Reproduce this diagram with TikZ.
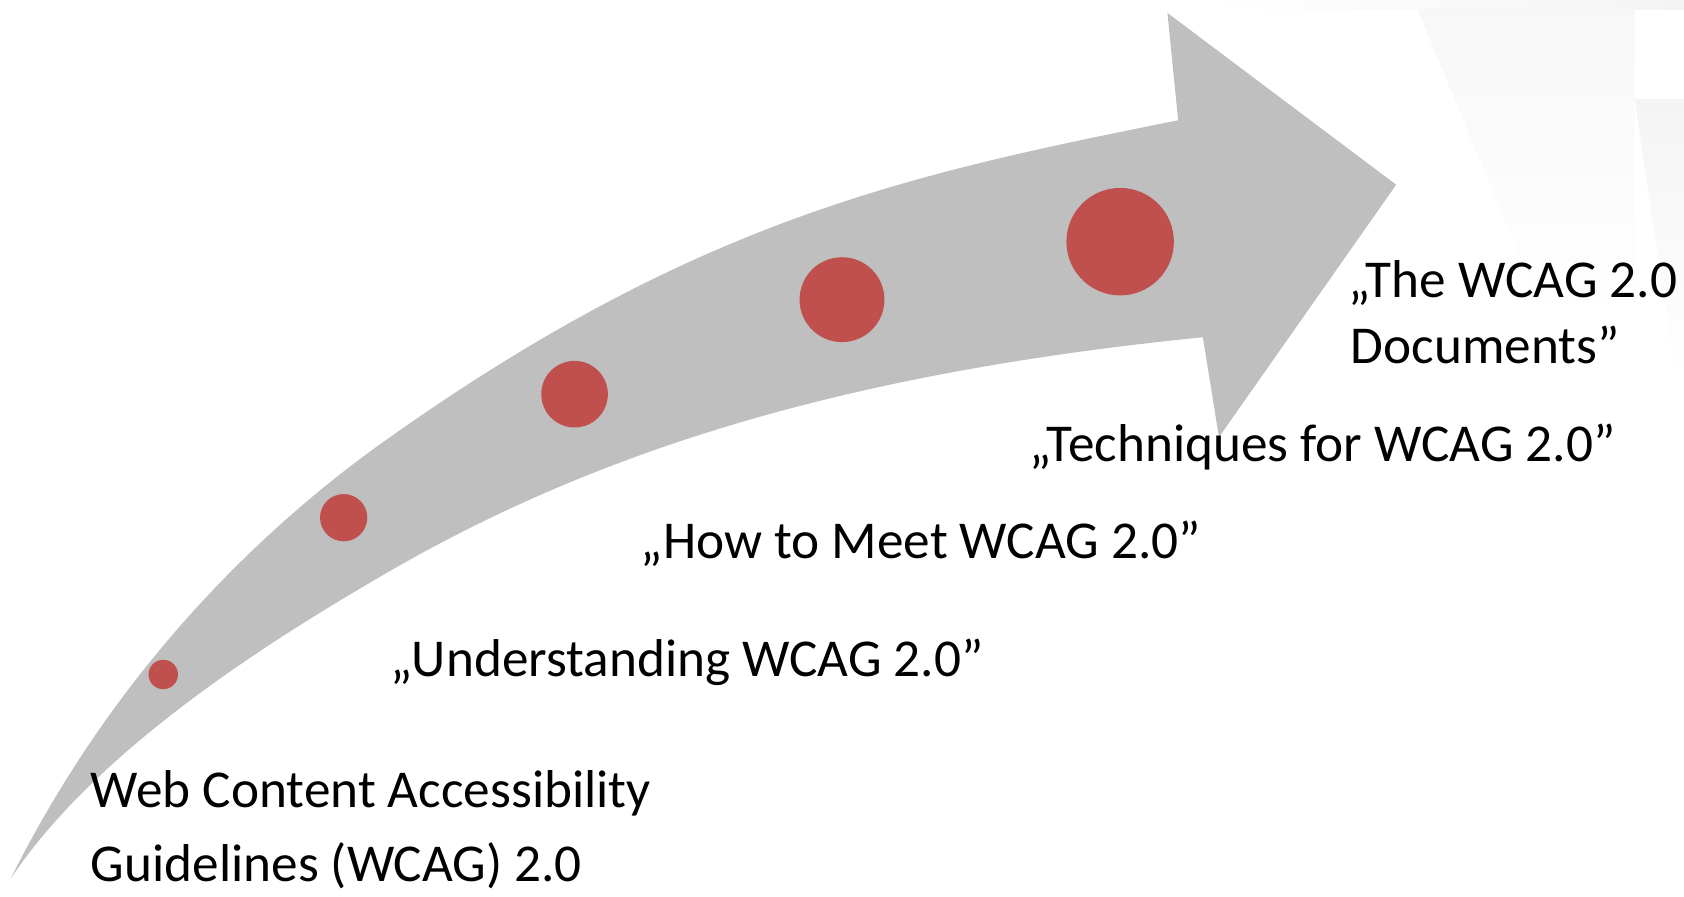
\documentclass[tikz,border=0pt]{standalone}
\usepackage{fontspec}
\setmainfont{Carlito}
\definecolor{arrowgray}{HTML}{BFBFBF}
\definecolor{dotred}{HTML}{C0504D}
\definecolor{faint}{HTML}{F4F4F4}
\begin{document}
\begin{tikzpicture}[x=0.01cm, y=-0.01cm,
  dot/.style={circle, fill=dotred, inner sep=0pt, draw=none},
  label/.style={anchor=base west, inner sep=0pt, font=\fontsize{14.1pt}{17pt}\selectfont}]
\useasboundingbox (0,0) rectangle (1568,835);
% faint background shapes at top right
\shade[left color=white, right color=faint] (1118,0) rectangle (1568,9);
\shade[top color=faint!70, bottom color=white] (1320,9) -- (1522,9) -- (1522,300) -- (1440,300) -- cycle;
\shade[top color=faint, bottom color=white] (1522,92) -- (1568,92) -- (1568,350) -- (1560,350) -- cycle;
% curved arrow
\fill[arrowgray] (10,818)
  .. controls (110,618) and (249,488) .. (359,410)
  .. controls (649,204) and (847,162) .. (1097,112)
  -- (1087,12) -- (1300,172) -- (1135,407) -- (1120,314)
  .. controls (790,347) and (559,418) .. (359,534)
  .. controls (249,598) and (90,698) .. (10,818) -- cycle;
% dots
\node[dot, minimum size=0.274cm] (c1) at (152,628) {};
\node[dot, minimum size=0.44cm] (c2) at (320,482) {};
\node[dot, minimum size=0.62cm] (c3) at (535,367) {};
\node[dot, minimum size=0.79cm] (c4) at (784,279) {};
\node[dot, minimum size=1.0cm] (c5) at (1043,225) {};
% labels
\node[label] (t1) at (84,752) {Web Content Accessibility};
\node[label] (t1b) at (84,821) {Guidelines (WCAG) 2.0};
\node[label] (t2) at (363,630) {„Understanding WCAG 2.0”};
\node[label] (t3) at (596,520) {„How to Meet WCAG 2.0”};
\node[label] (t4) at (958,430) {„Techniques for WCAG 2.0”};
\node[label] (t5) at (1255,277) {„The WCAG 2.0};
\node[label] (t5b) at (1257,338) {Documents”};
\end{tikzpicture}
\end{document}
